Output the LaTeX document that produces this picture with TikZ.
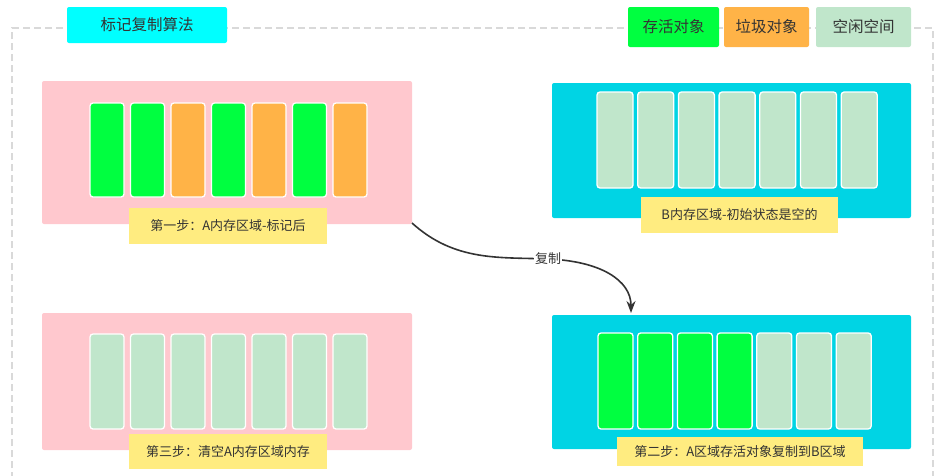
\documentclass[tikz,border=0pt]{standalone}
\usepackage{fontspec}
\setmainfont{Noto Sans CJK SC}
\usetikzlibrary{arrows.meta}
\definecolor{live}{RGB}{0,255,64}
\definecolor{garb}{RGB}{255,179,71}
\definecolor{free}{RGB}{192,230,203}
\definecolor{pinkbg}{RGB}{255,200,206}
\definecolor{cyanbg}{RGB}{0,212,228}
\definecolor{titlec}{RGB}{0,255,255}
\definecolor{labelc}{RGB}{255,236,128}
\definecolor{txt}{RGB}{51,51,51}
\definecolor{dashc}{RGB}{217,217,217}
\tikzset{
  box/.style={rectangle, inner sep=0pt, rounded corners=2pt, text=txt},
  bar/.style={rectangle, inner sep=0pt, draw=white, line width=1.3pt, rounded corners=3pt},
  lbl/.style={rectangle, inner sep=0pt, fill=labelc, text=txt, font=\fontsize{13}{15}\selectfont},
  big/.style={font=\fontsize{15.5}{18}\selectfont},
}
\begin{document}
\begin{tikzpicture}[x=1pt,y=-1pt]
\useasboundingbox (0,0) rectangle (952,475);
\begin{scope}
\clip (0,0) rectangle (952,475);
\draw[dashc, line width=1.5pt, dash pattern=on 7pt off 4pt] (12,490) -- (12,28) -- (933,28) -- (933,490);
\end{scope}
% title and legend
\node[box, big, fill=titlec, minimum width=160, minimum height=36] (title) at (147,25) {标记复制算法};
\node[box, big, fill=live, minimum width=91, minimum height=40] (lg1) at (673.5,27) {存活对象};
\node[box, big, fill=garb, minimum width=85, minimum height=40] (lg2) at (766.5,27) {垃圾对象};
\node[box, big, fill=free, minimum width=95, minimum height=40] (lg3) at (863.5,27) {空闲空间};
% panels
\node[box, fill=pinkbg, minimum width=370, minimum height=143] (A1) at (227,152.5) {};
\node[box, fill=cyanbg, minimum width=359, minimum height=135] (B1) at (731.5,150.5) {};
\node[box, fill=pinkbg, minimum width=370, minimum height=137] (A3) at (227,381.5) {};
\node[box, fill=cyanbg, minimum width=359, minimum height=134] (B2) at (731.5,382) {};
% bars A1
\foreach \c [count=\i from 0] in {live,live,garb,live,garb,live,garb}
  \node[bar, fill=\c, minimum width=34, minimum height=94] (a1b\i) at (107+40.5*\i,150) {};
% bars B1
\foreach \i in {0,...,6}
  \node[bar, fill=free, minimum width=36, minimum height=96] (b1b\i) at (615+40.7*\i,140) {};
% bars A3
\foreach \i in {0,...,6}
  \node[bar, fill=free, minimum width=34, minimum height=95] (a3b\i) at (107+40.5*\i,381.5) {};
% bars B2
\foreach \c [count=\i from 0] in {live,live,live,live,free,free,free}
  \node[bar, fill=\c, minimum width=35, minimum height=96] (b2b\i) at (615.5+39.7*\i,381) {};
% labels
\node[lbl, minimum width=198, minimum height=36] (L1) at (228,226) {第一步：A内存区域-标记后};
\node[lbl, minimum width=197, minimum height=36] (LB1) at (739.5,215) {B内存区域-初始状态是空的};
\node[lbl, minimum width=198, minimum height=35] (L3) at (228,451.5) {第三步：清空A内存区域内存};
\node[lbl, minimum width=246, minimum height=29] (L2) at (740,451.5) {第二步：A区域存活对象复制到B区域};
% arrow
\coordinate (s) at (412,223);
\coordinate (m) at (548,259);
\coordinate (e) at (631,313);
\draw[txt, line width=1.6pt, -{Stealth[length=12pt,width=9pt]}]
  (s) .. controls (455,262) and (500,257) .. (m)
      .. controls (600,261) and (631,280) .. (e);
\node[fill=white, inner sep=1pt, text=txt, font=\fontsize{13}{15}\selectfont] (cp) at (m) {复制};
\end{tikzpicture}
\end{document}
